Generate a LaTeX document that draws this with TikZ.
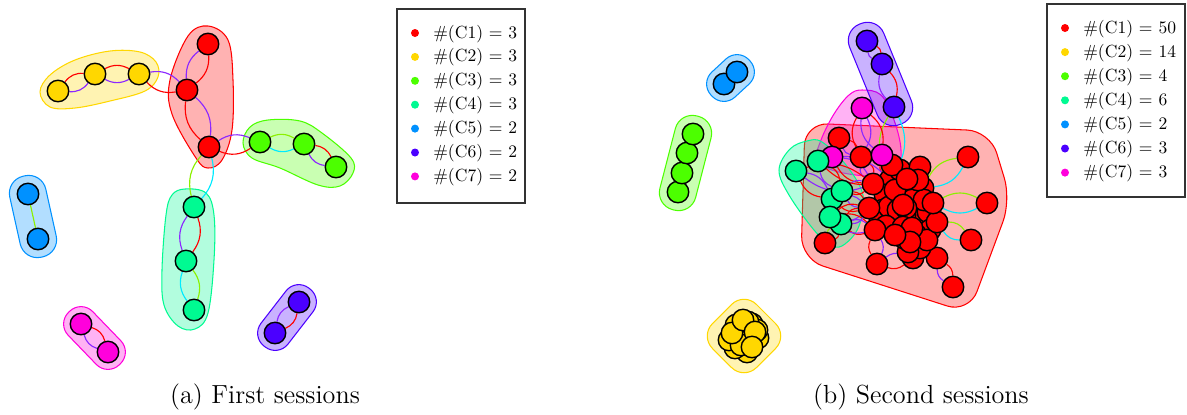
\documentclass[tikz,border=0pt]{standalone}
\usetikzlibrary{calc}
\definecolor{cA}{RGB}{255,0,0}
\definecolor{cB}{RGB}{255,215,0}
\definecolor{cC}{RGB}{76,255,0}
\definecolor{cD}{RGB}{0,250,146}
\definecolor{cE}{RGB}{0,145,255}
\definecolor{cF}{RGB}{75,0,255}
\definecolor{cG}{RGB}{255,0,220}
\definecolor{eR}{RGB}{255,0,0}
\definecolor{eP}{RGB}{140,40,255}
\definecolor{eC}{RGB}{0,235,255}
\definecolor{eL}{RGB}{140,240,0}
\pgfdeclarelayer{hl}
\pgfdeclarelayer{el}
\pgfsetlayers{hl,el,main}
\tikzset{
 vtx/.style={circle, draw=black, line width=0.8pt, fill=#1, minimum size=0.43cm, inner sep=0pt},
 hull/.style={draw=#1, fill=#1, fill opacity=0.3, line width=0.6pt},
 lnk/.style={draw=#1, line width=0.65pt},
 ldot/.style={circle, fill=#1, minimum size=0.16cm, inner sep=0pt},
 ltext/.style={anchor=base west, font=\fontsize{10}{12}\selectfont, inner sep=0pt},
 lbox/.style={draw=black!80, line width=0.7pt},
 captxt/.style={anchor=base, font=\fontsize{14.9}{18}\selectfont, inner sep=0pt}
}
\newcommand\dedge[4]{\draw[lnk=#3, bend left=28] (#1) to (#2); \draw[lnk=#4, bend right=28] (#1) to (#2);}
% name, colour, node1, node2, half width (pt)
\newcommand\stad[5]{\path let \p1=($(#4)-(#3)$), \n1={atan2(\y1,\x1)}, \n2={veclen(\x1,\y1)} in
 node[hull=#2, rectangle, rounded corners={0.95*#5pt}, rotate=\n1, minimum width={\n2+2*#5}, minimum height={2*#5}, inner sep=0pt] (#1) at ($(#3)!0.5!(#4)$) {};}
\begin{document}
\begin{tikzpicture}[x=0.02cm, y=-0.02cm]
\useasboundingbox (0,0) rectangle (1187,414);
% ---------------- (a) first sessions ----------------
\node[vtx=cA] (aR1) at (208,44) {};
\node[vtx=cA] (aR2) at (187,90) {};
\node[vtx=cA] (aR3) at (209,147) {};
\node[vtx=cB] (aY1) at (58,91) {};
\node[vtx=cB] (aY2) at (95,74) {};
\node[vtx=cB] (aY3) at (139,74) {};
\node[vtx=cC] (aG1) at (260,142) {};
\node[vtx=cC] (aG2) at (304,144) {};
\node[vtx=cC] (aG3) at (336,167) {};
\node[vtx=cD] (aT1) at (194,207) {};
\node[vtx=cD] (aT2) at (186,261) {};
\node[vtx=cD] (aT3) at (194,310) {};
\node[vtx=cE] (aB1) at (28,194) {};
\node[vtx=cE] (aB2) at (38,239) {};
\node[vtx=cF] (aP1) at (299,302) {};
\node[vtx=cF] (aP2) at (275,333) {};
\node[vtx=cG] (aM1) at (81,324) {};
\node[vtx=cG] (aM2) at (108,352) {};
\begin{pgfonlayer}{hl}
\draw[hull=cA] plot[smooth cycle, tension=0.6] coordinates {(208,26) (228,40) (233,80) (232,130) (222,160) (208,168) (196,158) (172,114) (170,80) (188,36)};
\draw[hull=cB] plot[smooth cycle, tension=0.6] coordinates {(40,92) (50,75) (75,60) (110,51) (140,52) (156,62) (158,77) (145,91) (110,101) (75,108) (50,107)};
\draw[hull=cC] plot[smooth cycle, tension=0.6] coordinates {(243,143) (250,127) (268,120) (300,121) (322,133) (351,158) (353,173) (340,186) (318,185) (280,168) (252,158)};
\draw[hull=cD] plot[smooth cycle, tension=0.6] coordinates {(185,189) (206,193) (214,215) (214,260) (208,313) (195,329) (178,326) (164,305) (162,270) (166,215) (172,195)};
\stad{hB}{cE}{aB1}{aB2}{10.5}
\stad{hP}{cF}{aP1}{aP2}{9.7}
\stad{hM}{cG}{aM1}{aM2}{9.7}
\end{pgfonlayer}
\begin{pgfonlayer}{el}
\dedge{aY1}{aY2}{eR}{eP}
\dedge{aY2}{aY3}{eR}{eP}
\dedge{aY3}{aR2}{eP}{eR}
\dedge{aR1}{aR2}{eR}{eP}
\dedge{aR2}{aR3}{eP}{eR}
\dedge{aR3}{aG1}{eP}{eR}
\dedge{aG1}{aG2}{eL}{eC}
\dedge{aG2}{aG3}{eR}{eP}
\dedge{aR3}{aT1}{eC}{eL}
\dedge{aT1}{aT2}{eR}{eP}
\dedge{aT2}{aT3}{eL}{eC}
\draw[lnk=eL] (aB1) -- (aB2);
\dedge{aP1}{aP2}{eR}{eP}
\dedge{aM1}{aM2}{eR}{eP}
\end{pgfonlayer}
% legend (a)
\draw[lbox] (397,9) rectangle (525,203);
\foreach \c/\t [count=\i] in {cA/{\#(C1) $=$ 3}, cB/{\#(C2) $=$ 3}, cC/{\#(C3) $=$ 3}, cD/{\#(C4) $=$ 3}, cE/{\#(C5) $=$ 2}, cF/{\#(C6) $=$ 2}, cG/{\#(C7) $=$ 2}}{
 \node[ldot=\c] (la\i) at (415,{33+23.9*(\i-1)}) {};
 \node[ltext] (lta\i) at (433,{38+23.9*(\i-1)}) {\t};
}
\node[captxt] (capa) at (265,403) {(a) First sessions};
% ---------------- (b) second sessions ----------------
% red cluster
\foreach \x/\y [count=\i] in {839/138, 861/157, 968/157, 987/203, 971/240, 825/243, 877/264, 953/287, 913/258, 937/258,
 890/180, 900/170, 920/167, 923/188, 885/195, 900/195, 883/210, 897/222, 915/207, 918/215,
 928/212, 892/165, 910/190, 880/220, 905/215, 920/248, 908/252, 930/230, 889/207, 912/200,
 898/210, 916/235, 924/200, 895/190, 904/238, 886/226, 918/180, 906/208, 927/240, 903/227,
 907/179, 903/205, 912/228, 910/242, 937/222, 933/203, 873/184, 869/208, 875/230, 895/235}{
 \node[vtx=cA] (bR\i) at (\x,\y) {};
}
% magenta
\node[vtx=cG] (bM1) at (862,108) {};
\node[vtx=cG] (bM2) at (832,157) {};
\node[vtx=cG] (bM3) at (882,155) {};
% teal
\node[vtx=cD] (bT1) at (796,171) {};
\node[vtx=cD] (bT2) at (818,161) {};
\node[vtx=cD] (bT4) at (832,199) {};
\node[vtx=cD] (bT3) at (842,191) {};
\node[vtx=cD] (bT6) at (841,224) {};
\node[vtx=cD] (bT5) at (830,217) {};
% purple
\node[vtx=cF] (bQ1) at (867,41) {};
\node[vtx=cF] (bQ2) at (882,64) {};
\node[vtx=cF] (bQ3) at (894,107) {};
% blue
\node[vtx=cE] (bS2) at (724,84) {};
\node[vtx=cE] (bS1) at (737,72) {};
% green
\node[vtx=cC] (bG4) at (678,192) {};
\node[vtx=cC] (bG3) at (682,173) {};
\node[vtx=cC] (bG2) at (687,153) {};
\node[vtx=cC] (bG1) at (693,134) {};
% yellow
\foreach \x/\y [count=\i] in {736/325, 752/324, 758/338, 747/352, 735/348, 744/336, 729/340, 757/330, 741/345, 748/322, 732/333, 743/320, 755/332, 752/347}{
 \node[vtx=cB] (bY\i) at (\x,\y) {};
}
\begin{pgfonlayer}{hl}
\draw[hull=cA, rounded corners=13pt] (897,127) -- (990,131) -- (1011,200) -- (969,313) -- (801,259) -- (805,123) -- (897,127);
\draw[hull=cG] plot[smooth cycle, tension=0.6] coordinates {(862,90) (881,95) (894,120) (901,150) (896,171) (870,176) (835,171) (817,160) (821,140) (834,114) (849,95)};
\draw[hull=cD] plot[smooth cycle, tension=0.6] coordinates {(779,170) (790,149) (807,141) (822,142) (846,165) (863,195) (859,226) (845,244) (832,246) (814,230) (789,195)};
\stad{hbQ}{cF}{bQ1}{bQ3}{10.5}
\stad{hbS}{cE}{bS1}{bS2}{9.7}
\stad{hbG}{cC}{bG1}{bG4}{10.5}
\draw[hull=cB, rounded corners=10pt] (722,314) -- (744,292) -- (788,336) -- (744,380) -- (700,336) -- (722,314);
\end{pgfonlayer}
\begin{pgfonlayer}{el}
\dedge{bQ1}{bQ2}{eR}{eP}
\dedge{bQ2}{bQ3}{eR}{eP}
\dedge{bQ3}{bR11}{eC}{eL}
\dedge{bM1}{bR2}{eP}{eR}
\dedge{bM1}{bM3}{eR}{eP}
\dedge{bM3}{bR11}{eP}{eR}
\dedge{bR1}{bR2}{eR}{eP}
\dedge{bR2}{bR47}{eR}{eP}
\dedge{bM2}{bR47}{eP}{eR}
\dedge{bT1}{bT4}{eP}{eR}
\dedge{bT2}{bT3}{eR}{eP}
\dedge{bT1}{bR47}{eR}{eP}
\dedge{bT3}{bR47}{eP}{eR}
\dedge{bT3}{bR48}{eR}{eP}
\dedge{bT4}{bR48}{eP}{eR}
\dedge{bT5}{bR48}{eR}{eP}
\dedge{bT6}{bR49}{eP}{eR}
\dedge{bT5}{bR49}{eR}{eP}
\dedge{bT6}{bR48}{eR}{eP}
\dedge{bT2}{bR11}{eP}{eR}
\dedge{bR6}{bT6}{eL}{eR}
\dedge{bR3}{bR14}{eC}{eL}
\dedge{bR4}{bR46}{eC}{eL}
\dedge{bR5}{bR45}{eC}{eL}
\dedge{bR7}{bR49}{eR}{eP}
\dedge{bR7}{bR9}{eP}{eR}
\dedge{bR8}{bR10}{eP}{eR}
\dedge{bR47}{bR41}{eR}{eP}
\dedge{bR48}{bR42}{eP}{eR}
\dedge{bS1}{bS2}{eL}{eC}
\end{pgfonlayer}
% legend (b)
\draw[lbox] (1047,4) rectangle (1185,197);
\foreach \c/\t [count=\i] in {cA/{\#(C1) $=$ 50}, cB/{\#(C2) $=$ 14}, cC/{\#(C3) $=$ 4}, cD/{\#(C4) $=$ 6}, cE/{\#(C5) $=$ 2}, cF/{\#(C6) $=$ 3}, cG/{\#(C7) $=$ 3}}{
 \node[ldot=\c] (lb\i) at (1065,{28+24.1*(\i-1)}) {};
 \node[ltext] (ltb\i) at (1083,{33+24.1*(\i-1)}) {\t};
}
\node[captxt] (capb) at (921,403) {(b) Second sessions};
\end{tikzpicture}
\end{document}
